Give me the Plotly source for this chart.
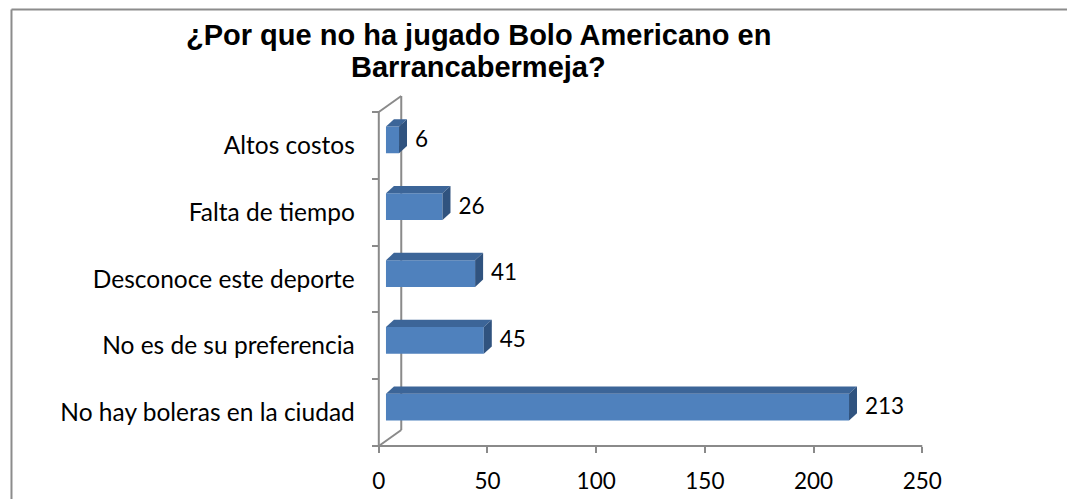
import plotly.graph_objects as go

# ---------------- data ----------------
categories = ["No hay boleras en la ciudad", "No es de su preferencia",
              "Desconoce este deporte", "Falta de tiempo", "Altos costos"]
values = [213, 45, 41, 26, 6]
x_ticks = [0, 50, 100, 150, 200, 250]
title_lines = ["¿Por que no ha jugado Bolo Americano en", "Barrancabermeja?"]

# ---------------- geometry ----------------
W, H = 1067, 499
X0PX, X250PX = 377.5, 922.0        # front plane: value 0 and 250
YBOT, YTOP = 446.0, 112.0          # front plane: y=-0.5 and y=4.5
ppx = (X250PX - X0PX) / 250.0
ppy = (YBOT - YTOP) / 5.0
xr = [-2, 262]
yr = [-0.6, 4.8]


def ypx(v):
    return YBOT - (v + 0.5) * ppy


dom_x = [(X0PX + xr[0] * ppx) / W, (X0PX + xr[1] * ppx) / W]
dom_y = [1 - ypx(yr[0]) / H, 1 - ypx(yr[1]) / H]

WX, WY = 22.5 / ppx, 16.0 / ppy        # wall depth
BX, BY = 7.2 / ppx, 0.082              # bar front face offset
DX, DY = 8.0 / ppx, 7.3 / ppy          # bar depth
BW = 0.4                               # bar thickness

FRONT = "#4F81BD"
TOP = "#3C6598"
SIDE = "#30537F"
AXC = "#8A8A8A"
FONT = "Lato"
CAT_SIZE = 24.5
NUM_SIZE = 22.5
TITLE_SIZE = 29

fig = go.Figure()

ypos = [i + BY for i in range(len(values))]

fig.add_trace(go.Bar(
    y=ypos, x=values, base=BX, orientation="h", width=BW,
    marker=dict(color=FRONT, line=dict(width=0)), hoverinfo="skip"))

for v, yc in zip(values, ypos):
    yt, yb = yc + BW / 2, yc - BW / 2
    fig.add_trace(go.Scatter(
        x=[BX, BX + v, BX + v + DX, BX + DX, BX],
        y=[yt, yt, yt + DY, yt + DY, yt],
        fill="toself", fillcolor=TOP, mode="lines", line=dict(width=0),
        hoverinfo="skip"))
    fig.add_trace(go.Scatter(
        x=[BX + v, BX + v + DX, BX + v + DX, BX + v, BX + v],
        y=[yb, yb + DY, yt + DY, yt, yb],
        fill="toself", fillcolor=SIDE, mode="lines", line=dict(width=0),
        hoverinfo="skip"))

fig.add_trace(go.Scatter(
    x=[BX + v + DX + 8 / ppx for v in values], y=[y - 0.02 for y in ypos],
    text=[str(v) for v in values], mode="text", textposition="middle right",
    textfont=dict(family=FONT, size=NUM_SIZE, color="black"),
    cliponaxis=False, hoverinfo="skip"))

# dummy trace for the category label axis
fig.add_trace(go.Scatter(x=[0] * 5, y=list(range(5)), yaxis="y2", mode="markers",
                         marker=dict(opacity=0), hoverinfo="skip"))

line = dict(color=AXC, width=2)
shapes = [
    dict(type="line", xref="x", yref="y", x0=0, y0=-0.5, x1=0, y1=4.5, line=line, layer="below"),
    dict(type="line", xref="x", yref="y", x0=0, y0=-0.5, x1=250, y1=-0.5, line=line, layer="below"),
    dict(type="line", xref="x", yref="y", x0=0, y0=-0.5, x1=WX, y1=-0.5 + WY, line=line, layer="below"),
    dict(type="line", xref="x", yref="y", x0=0, y0=4.5, x1=WX, y1=4.5 + WY, line=line, layer="below"),
    dict(type="line", xref="x", yref="y", x0=WX, y0=-0.5 + WY, x1=WX, y1=4.5 + WY, line=line, layer="below"),
    # outer frame
    dict(type="line", xref="paper", yref="paper", x0=9.5 / W, y0=1 - 9.5 / H, x1=9.5 / W, y1=0,
         line=dict(color="#8C8C8C", width=2)),
    dict(type="line", xref="paper", yref="paper", x0=9.5 / W, y0=1 - 9.5 / H, x1=1, y1=1 - 9.5 / H,
         line=dict(color="#8C8C8C", width=2)),
]

annotations = [
    dict(text="<b>%s</b>" % title_lines[0], xref="paper", yref="paper", x=477 / W, y=1 - 35 / H,
         xanchor="center", yanchor="middle", showarrow=False,
         font=dict(family="Liberation Sans, Arial", size=TITLE_SIZE, color="black")),
    dict(text="<b>%s</b>" % title_lines[1], xref="paper", yref="paper", x=477 / W, y=1 - 67 / H,
         xanchor="center", yanchor="middle", showarrow=False,
         font=dict(family="Liberation Sans, Arial", size=TITLE_SIZE, color="black")),
]

fig.update_layout(
    width=W, height=H, margin=dict(l=0, r=0, t=0, b=0),
    paper_bgcolor="white", plot_bgcolor="white", showlegend=False,
    shapes=shapes, annotations=annotations,
    xaxis=dict(range=xr, domain=dom_x, anchor="free", position=1 - YBOT / H,
               tickvals=x_ticks, ticktext=[str(t) for t in x_ticks],
               ticks="outside", ticklen=6, tickwidth=2, tickcolor=AXC,
               showline=False, showgrid=False, zeroline=False,
               tickfont=dict(family=FONT, size=NUM_SIZE, color="black"), ticklabelstandoff=9),
    yaxis=dict(range=yr, domain=dom_y, anchor="free", position=X0PX / W,
               tickvals=[-0.5, 0.5, 1.5, 2.5, 3.5, 4.5], ticks="outside", ticklen=7,
               tickwidth=2, tickcolor=AXC, showticklabels=False,
               showline=False, showgrid=False, zeroline=False),
    yaxis2=dict(range=yr, domain=dom_y, anchor="free", position=X0PX / W, overlaying="y",
                side="left", tickvals=list(range(5)), ticktext=categories, ticks="",
                ticklabelstandoff=24, showline=False, showgrid=False, zeroline=False,
                tickfont=dict(family=FONT, size=CAT_SIZE, color="black")),
)

fig.write_html("out.html")
